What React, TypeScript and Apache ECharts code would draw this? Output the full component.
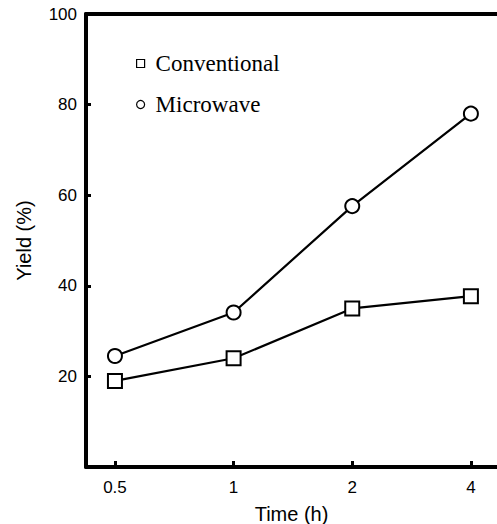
import React, { useEffect, useRef } from "react";
import * as echarts from "echarts";

const timeLabels = ["0.5", "1", "2", "4"];
const conventional = [19, 24, 35, 37.7];
const microwave = [24.5, 34.1, 57.6, 78];

export default function App() {
  const ref = useRef<HTMLDivElement>(null);
  useEffect(() => {
    if (!ref.current) return;
    const chart = echarts.init(ref.current, null, { renderer: "svg" });
    const idx = timeLabels.map((_, i) => i);
    const xBase = {
      type: "value" as const,
      min: -0.244,
      max: 3.22,
      splitLine: { show: false },
    };
    chart.setOption({
      animation: false,
      backgroundColor: "#fff",
      grid: { left: 86, right: 0, top: 14, bottom: 57, containLabel: false, outerBoundsMode: "none" },
      legend: {
        orient: "vertical",
        left: 131,
        top: 47,
        itemWidth: 8,
        itemHeight: 8,
        itemGap: 18,
        selectedMode: false,
        textStyle: {
          fontFamily: "Liberation Serif",
          fontSize: 23,
          lineHeight: 23,
          color: "#000",
          padding: [0, 0, 0, 6],
        },
        data: [
          {
            name: "Conventional",
            icon: "rect",
            itemStyle: { color: "#fff", borderColor: "#000", borderWidth: 1.2 },
          },
          {
            name: "Microwave",
            icon: "circle",
            itemStyle: { color: "#fff", borderColor: "#000", borderWidth: 1.2 },
          },
        ],
      },
      xAxis: [
        {
          ...xBase,
          position: "bottom",
          name: "Time (h)",
          nameLocation: "middle",
          nameGap: 37,
          nameTextStyle: { fontFamily: "Liberation Sans", fontSize: 20, color: "#000" },
          axisLine: { show: true, onZero: false, lineStyle: { color: "#000", width: 4 } },
          axisTick: {
            show: true,
            inside: true,
            length: 6,
            customValues: idx,
            lineStyle: { color: "#000", width: 3 },
          },
          axisLabel: {
            show: true,
            customValues: idx,
            margin: 12,
            fontFamily: "Liberation Sans",
            fontSize: 17,
            color: "#000",
            formatter: (v: number) => timeLabels[Math.round(v)] ?? "",
          },
        },
        {
          ...xBase,
          position: "top",
          axisLine: { show: true, onZero: false, lineStyle: { color: "#000", width: 4 } },
          axisTick: { show: false },
          axisLabel: { show: false },
        },
      ],
      yAxis: {
        type: "value",
        min: 0,
        max: 100,
        interval: 20,
        name: "Yield (%)",
        nameLocation: "middle",
        nameGap: 52,
        nameTextStyle: { fontFamily: "Liberation Sans", fontSize: 20, color: "#000" },
        splitLine: { show: false },
        axisLine: { show: true, onZero: false, lineStyle: { color: "#000", width: 4 } },
        axisTick: { show: true, inside: true, length: 5, lineStyle: { color: "#000", width: 3 } },
        axisLabel: {
          margin: 9,
          fontFamily: "Liberation Sans",
          fontSize: 17,
          color: "#000",
          formatter: (v: number) => (v === 0 ? "" : String(v)),
        },
      },
      series: [
        {
          name: "Conventional",
          type: "line",
          xAxisIndex: 0,
          symbol: "rect",
          symbolSize: 14,
          itemStyle: { color: "#fff", borderColor: "#000", borderWidth: 2 },
          lineStyle: { color: "#000", width: 2.2 },
          data: conventional.map((v, i) => [i, v]),
        },
        {
          name: "Microwave",
          type: "line",
          xAxisIndex: 0,
          symbol: "circle",
          symbolSize: 14,
          itemStyle: { color: "#fff", borderColor: "#000", borderWidth: 2 },
          lineStyle: { color: "#000", width: 2.2 },
          data: microwave.map((v, i) => [i, v]),
        },
      ],
    });
    return () => chart.dispose();
  }, []);
  return (
    <div
      ref={ref}
      style={{ position: "fixed", left: 0, top: 0, width: 497, height: 524 }}
    />
  );
}
